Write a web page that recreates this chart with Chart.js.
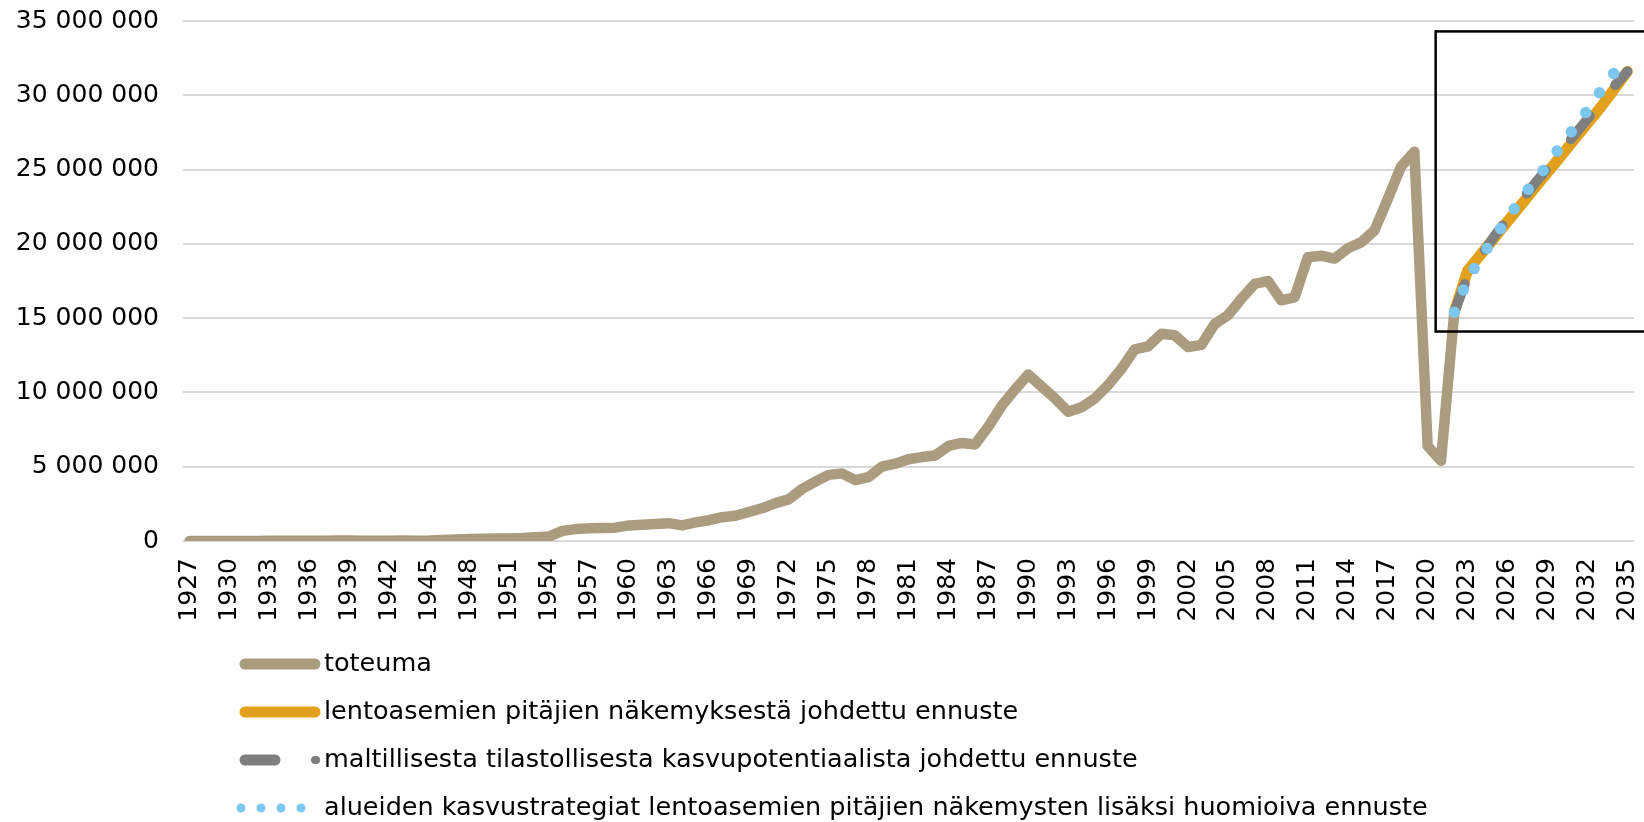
<!DOCTYPE html>
<html>
<head>
<meta charset="utf-8">
<script src="https://cdn.jsdelivr.net/npm/chart.js@4.4.1/dist/chart.umd.min.js"></script>
<style>
  html, body { margin: 0; padding: 0; background: #fff; }
  #wrap { width: 1644px; height: 822px; }
</style>
</head>
<body>
<div id="wrap"><canvas id="matkustajat" width="1644" height="822"></canvas></div>
<script>
// Vuodet 1927–2035
const alkuvuosi = 1927
const loppuvuosi = 2035
const vuodet = []
for (let v = alkuvuosi; v <= loppuvuosi; v++) vuodet.push(String(v))

// Toteutunut matkustajamäärä 1927–2022
const toteuma = [
  2000, 4000, 5000, 6000, 6000, 7000, 9000, 11000, 14000, 18000,
  25000, 30000, 30000, 20000, 20000, 25000, 30000, 25000, 30000, 60000,
  100000, 130000, 150000, 160000, 170000, 200000, 250000, 300000, 680000, 800000,
  850000, 880000, 900000, 1050000, 1100000, 1150000, 1200000, 1050000, 1250000, 1400000,
  1600000, 1700000, 1950000, 2200000, 2550000, 2800000, 3500000, 4000000, 4450000, 4550000,
  4100000, 4300000, 5000000, 5200000, 5500000, 5650000, 5750000, 6400000, 6600000, 6500000,
  7700000, 9100000, 10200000, 11200000, 10400000, 9600000, 8700000, 9000000, 9600000, 10500000,
  11600000, 12900000, 13100000, 13950000, 13850000, 13050000, 13200000, 14600000, 15200000, 16300000,
  17300000, 17500000, 16200000, 16400000, 19100000, 19200000, 19000000, 19700000, 20100000, 20900000,
  23000000, 25200000, 26200000, 6400000, 5400000, 15400000
]

// Ennusteet 2022–2035
const ennusteVuodet = [2022, 2023, 2024, 2025, 2026, 2027, 2028, 2029, 2030, 2031, 2032, 2033, 2034, 2035]
const pitajienEnnuste = [
  15400000, 18200000, 19300000, 20400000, 21500000, 22600000, 23700000,
  24800000, 25900000, 27000000, 28100000, 29200000, 30400000, 31600000
]
const tilastollinenEnnuste = [
  15400000, 17800000, 19200000, 20500000, 21700000, 22900000, 24000000,
  25100000, 26200000, 27300000, 28400000, 29500000, 30600000, 31600000
]
const strategiaEnnuste = [
  15400000, 17600000, 19100000, 20400000, 21700000, 23000000, 24200000,
  25300000, 26600000, 27800000, 29000000, 30300000, 31500000, 32500000
]

const yTicks = [0, 5000000, 10000000, 15000000, 20000000, 25000000, 30000000, 35000000]

// Korostuslaatikko ennustejakson ympärille (vuosi, arvot)
const laatikko = { alku: 2020.6, yla: 34300000, ala: 14100000 }

function sarjaVuosille(alku, arvot) {
  return vuodet.map(function (v) {
    const i = Number(v) - alku
    return i >= 0 && i < arvot.length ? arvot[i] : null
  })
}

function muotoile(n) {
  return String(n).replace(/\B(?=(\d{3})+(?!\d))/g, " ")
}

const fontti = "'DejaVu Sans', Verdana, sans-serif"

const seliteRivit = [664, 712, 760, 808]

const selite = {
  id: "selite",
  afterDraw(chart) {
    const ctx = chart.ctx
    ctx.save()
    chart.data.datasets.forEach(function (ds, i) {
      const y = seliteRivit[i]
      ctx.strokeStyle = ds.borderColor
      ctx.lineWidth = 11
      ctx.lineCap = "round"
      if (ds.seliteTyyli === "pisteet") {
        ctx.setLineDash([0, 20])
        ctx.lineWidth = 9
        ctx.beginPath(); ctx.moveTo(241, y); ctx.lineTo(305, y); ctx.stroke()
      } else if (ds.seliteTyyli === "katko") {
        ctx.setLineDash([])
        ctx.beginPath(); ctx.moveTo(245, y); ctx.lineTo(275, y); ctx.stroke()
        ctx.lineWidth = 8
        ctx.beginPath(); ctx.moveTo(315, y); ctx.lineTo(316, y); ctx.stroke()
      } else {
        ctx.setLineDash([])
        ctx.beginPath(); ctx.moveTo(245, y); ctx.lineTo(315, y); ctx.stroke()
      }
      ctx.setLineDash([])
      ctx.fillStyle = "#000"
      ctx.font = "25.5px " + fontti
      ctx.textBaseline = "middle"
      ctx.fillText(ds.label, 324, y)
    })
    ctx.restore()
  }
}

const korostus = {
  id: "korostus",
  afterDatasetsDraw(chart) {
    const x = chart.scales.x
    const y = chart.scales.y
    const i = laatikko.alku - alkuvuosi
    const i0 = Math.floor(i)
    const p0 = x.getPixelForValue(i0)
    const p1 = x.getPixelForValue(i0 + 1)
    const vasen = p0 + (p1 - p0) * (i - i0)
    const yla = y.getPixelForValue(laatikko.yla)
    const ala = y.getPixelForValue(laatikko.ala)
    const ctx = chart.ctx
    ctx.save()
    ctx.strokeStyle = "#000"
    ctx.lineWidth = 2.5
    ctx.strokeRect(vasen, yla, chart.width + 10 - vasen, ala - yla)
    ctx.restore()
  }
}

const ctx = document.getElementById("matkustajat").getContext("2d")
const kuvaaja = new Chart(ctx, {
  type: "line",
  data: {
    labels: vuodet,
    datasets: [
      {
        label: "toteuma",
        data: sarjaVuosille(alkuvuosi, toteuma),
        borderColor: "#ab9c7f",
        borderWidth: 10.5,
        order: 4
      },
      {
        label: "lentoasemien pitäjien näkemyksestä johdettu ennuste",
        data: sarjaVuosille(ennusteVuodet[0], pitajienEnnuste),
        borderColor: "#e2a11c",
        borderWidth: 11,
        order: 3
      },
      {
        label: "maltillisesta tilastollisesta kasvupotentiaalista johdettu ennuste",
        data: sarjaVuosille(ennusteVuodet[0], tilastollinenEnnuste),
        borderColor: "#7f7f7f",
        borderWidth: 10,
        borderDash: [30, 40],
        seliteTyyli: "katko",
        order: 2
      },
      {
        label: "alueiden kasvustrategiat lentoasemien pitäjien näkemysten lisäksi huomioiva ennuste",
        data: sarjaVuosille(ennusteVuodet[0], strategiaEnnuste),
        borderColor: "#7dc7ef",
        borderWidth: 11.5,
        borderDash: [0, 24],
        seliteTyyli: "pisteet",
        order: 1
      }
    ]
  },
  options: {
    responsive: false,
    animation: false,
    maintainAspectRatio: false,
    layout: { padding: { left: 13, right: 10, top: 21, bottom: 0 } },
    elements: {
      point: { radius: 0, hoverRadius: 0 },
      line: { tension: 0, borderCapStyle: "round", borderJoinStyle: "round", fill: false }
    },
    plugins: {
      legend: { display: false },
      tooltip: { enabled: false }
    },
    scales: {
      x: {
        offset: true,
        grid: { display: false, drawTicks: false },
        border: { display: false },
        ticks: {
          autoSkip: false,
          maxRotation: 90,
          minRotation: 90,
          padding: 17,
          color: "#000",
          font: { family: fontti, size: 25 },
          callback: function (val, index) {
            return index % 3 === 0 ? vuodet[index] : null
          }
        },
        afterFit: function (scale) {
          scale.height = 281
          scale.paddingLeft = 0
          scale.paddingRight = 0
        }
      },
      y: {
        min: 0,
        max: 35000000,
        afterBuildTicks: function (scale) {
          scale.ticks = yTicks.map(function (v) { return { value: v } })
        },
        grid: { color: "#d9d9d9", lineWidth: 2, drawTicks: false },
        border: { display: false },
        ticks: {
          padding: 24,
          color: "#000",
          font: { family: fontti, size: 25 },
          callback: function (v) { return muotoile(v) }
        },
        afterFit: function (scale) {
          scale.width = 170
          scale.paddingTop = 0
          scale.paddingBottom = 0
        }
      }
    }
  },
  plugins: [korostus, selite]
})
</script>
</body>
</html>
